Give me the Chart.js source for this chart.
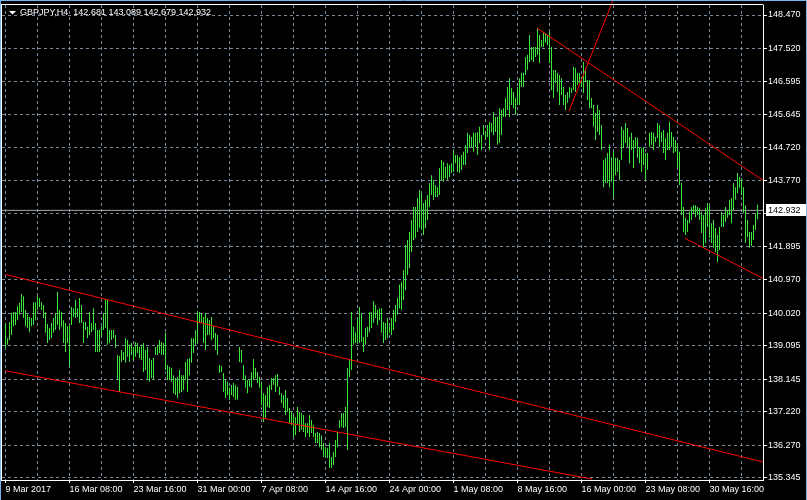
<!DOCTYPE html>
<html><head><meta charset="utf-8">
<script src="https://cdn.jsdelivr.net/npm/chart.js@4/dist/chart.umd.min.js"></script>
<style>html,body{margin:0;padding:0;background:#000;overflow:hidden}canvas{display:block}</style>
</head><body>
<canvas id="c" width="807" height="500"></canvas>
<script>
// ---- data ----
const symbolTitle = 'GBPJPY,H4';
const lastOHLC = [142.681, 143.089, 142.679, 142.932];
const xTickLabels = ['9 Mar 2017','16 Mar 08:00','23 Mar 16:00','31 Mar 00:00','7 Apr 08:00','14 Apr 16:00','24 Apr 00:00','1 May 08:00','8 May 16:00','16 May 00:00','23 May 08:00','30 May 16:00'];
const yTickValues = [148.470,147.520,146.595,145.645,144.720,143.770,142.845,141.895,140.970,140.020,139.095,138.145,137.220,136.270,135.345];
const highs = [
139.74,139.31,139.77,140.02,140.05,140.05,140.22,140.31,140.56,140.50,
140.11,139.99,139.91,139.88,140.33,140.33,140.50,140.45,140.33,140.25,
140.05,139.71,139.60,139.74,139.88,140.02,140.62,140.11,140.05,139.82,
139.74,139.65,139.68,140.19,140.16,140.39,140.16,140.45,140.25,139.77,
139.77,139.63,140.05,139.74,140.16,139.74,139.54,139.54,139.65,140.02,
140.42,140.39,139.54,139.54,139.54,139.40,138.83,138.80,138.97,138.92,
139.31,139.26,139.12,139.17,139.06,139.20,139.17,139.06,139.12,139.17,
138.97,139.06,138.75,138.69,138.75,139.06,139.12,139.26,139.20,139.17,
139.46,138.55,138.49,138.46,138.26,138.18,138.21,138.41,138.26,138.26,
138.63,138.72,138.75,139.31,139.31,139.54,140.08,140.05,140.02,139.91,
140.02,139.88,139.82,139.91,139.63,139.46,139.40,138.55,138.52,138.32,
138.12,138.07,137.90,137.98,138.04,137.98,137.93,139.06,138.97,138.55,
138.26,138.12,138.12,138.35,138.72,138.46,138.35,138.21,138.07,137.75,
137.70,137.93,137.98,138.18,138.18,138.26,138.29,137.93,137.75,137.70,
137.84,137.61,137.33,137.22,137.13,137.07,137.36,137.22,137.19,137.13,
136.90,136.90,137.13,136.99,136.85,136.62,136.65,136.62,136.56,136.34,
136.22,136.20,136.34,135.94,136.08,136.42,136.65,136.99,137.19,137.19,
137.36,138.46,138.69,140.05,139.63,139.48,139.88,140.19,140.02,139.34,
139.60,139.63,140.05,140.05,140.36,140.25,140.11,140.16,140.16,139.77,
139.74,139.88,139.65,139.88,140.11,140.25,140.45,140.82,140.90,141.24,
141.95,142.09,142.32,142.66,143.03,143.03,143.28,143.51,143.42,143.14,
143.23,143.37,143.71,143.93,143.79,143.65,143.59,144.13,144.36,144.30,
144.16,144.27,144.22,144.27,144.64,144.50,144.50,144.44,144.50,144.59,
144.79,145.13,145.07,145.01,145.13,145.13,145.15,145.30,145.07,145.35,
145.15,145.35,145.44,145.41,145.72,145.58,145.58,145.83,145.78,145.83,
146.12,146.43,146.68,146.40,146.29,146.12,146.43,146.68,146.83,146.83,
147.28,147.34,147.90,147.56,147.56,147.56,148.10,147.90,147.76,147.99,
147.96,147.90,147.99,147.56,146.91,146.91,146.83,146.77,146.68,146.43,
146.20,146.29,146.43,146.40,147.00,146.97,146.83,146.83,146.71,147.14,
146.97,146.63,146.63,146.12,145.92,145.69,145.92,145.78,145.35,144.36,
144.42,144.56,144.79,144.44,144.59,144.42,144.42,144.36,145.30,145.21,
145.41,145.27,145.01,145.13,144.93,145.01,144.98,144.73,144.70,144.73,
144.56,144.56,145.13,145.15,145.13,145.01,145.41,145.35,145.15,145.21,
144.98,145.13,145.44,145.15,145.01,144.93,144.79,144.59,143.71,143.03,
142.72,142.66,142.89,143.03,143.08,143.08,143.03,143.00,142.89,142.80,
143.00,143.14,143.08,142.57,142.66,142.43,142.23,142.46,142.89,142.80,
143.03,142.94,143.23,143.28,143.71,143.59,143.99,143.88,143.85,143.59,
143.08,142.66,142.32,142.32,142.52,142.86,143.089];
const lows = [
139.03,139.12,139.26,139.40,139.65,139.68,139.82,139.97,140.05,139.88,
139.65,139.60,139.48,139.65,139.68,139.82,140.11,140.19,140.11,139.88,
139.46,139.17,139.26,139.31,139.46,139.54,139.68,139.54,139.63,139.17,
138.92,139.17,138.52,139.68,139.91,139.88,139.91,139.74,139.74,139.17,
139.54,139.31,139.40,139.48,139.54,138.92,138.92,138.92,139.34,139.54,
139.60,139.12,139.17,139.26,139.31,139.03,138.12,137.78,138.63,138.69,
138.61,138.78,138.63,138.83,138.69,138.78,138.89,138.75,138.69,138.35,
138.41,138.12,138.07,138.18,138.12,138.83,138.83,138.89,138.83,138.83,
138.41,138.12,138.12,138.07,137.75,137.70,137.61,137.75,137.78,137.84,
138.12,137.78,138.26,138.61,138.89,139.12,139.17,139.77,139.74,139.17,
138.97,139.40,139.40,139.26,139.31,138.97,138.83,138.32,138.35,137.78,
137.61,137.70,137.56,137.70,137.64,137.56,137.56,138.63,138.61,138.12,
137.90,137.75,137.93,137.90,138.12,138.18,138.04,137.90,137.41,136.93,
137.05,137.36,137.33,137.84,137.98,137.78,137.93,137.70,137.47,137.33,
137.13,137.22,136.90,136.85,136.51,136.56,136.85,136.65,136.71,136.65,
136.51,136.62,136.51,136.62,136.51,136.34,136.34,136.22,136.14,135.94,
135.94,135.91,135.63,135.63,135.71,135.94,136.22,136.76,136.79,136.76,
136.79,136.14,138.21,138.41,139.12,139.17,139.20,139.17,139.20,138.92,
139.12,139.34,139.48,139.60,139.74,139.88,139.68,139.82,139.46,139.17,
139.26,139.31,139.46,139.40,139.54,139.77,139.97,140.16,140.11,140.39,
140.67,141.10,141.30,141.75,142.09,142.15,142.32,142.43,142.38,142.23,
142.43,142.66,143.03,143.37,143.23,143.31,143.31,143.37,143.79,143.74,
143.85,143.79,143.88,143.99,144.02,144.27,144.02,143.99,144.08,144.22,
144.22,144.56,144.70,144.73,144.59,144.73,144.50,144.84,144.64,145.07,
144.93,145.01,144.64,145.15,145.07,145.15,144.79,144.84,145.07,145.58,
145.58,145.78,145.58,145.92,145.83,145.64,145.92,145.92,146.43,146.43,
146.77,146.91,147.14,147.19,147.14,147.28,147.34,147.11,147.56,147.56,
147.68,147.62,147.11,146.34,146.12,146.54,146.29,145.92,146.20,145.92,
145.78,145.98,146.12,146.26,146.34,146.29,146.49,146.54,146.43,146.26,
146.57,146.06,145.83,145.83,145.30,144.93,145.15,145.07,144.64,143.59,
143.71,143.71,143.59,143.74,143.31,143.93,144.02,143.79,144.36,144.70,
144.84,144.73,144.27,144.64,144.13,144.70,144.42,144.27,144.02,144.22,
143.79,144.08,144.73,144.79,144.64,144.87,144.98,144.73,144.87,144.56,
144.36,144.64,144.64,144.73,144.56,144.59,144.13,143.65,142.80,142.32,
142.23,142.32,142.57,142.66,142.86,142.74,142.80,142.66,142.29,141.87,
142.01,142.46,142.15,142.01,141.87,141.75,141.47,141.81,142.46,142.46,
142.60,142.72,142.80,142.57,142.94,143.23,143.42,143.57,143.37,142.86,
142.01,142.18,141.87,141.92,142.09,142.38,142.679];
// trend lines: [barIndexStart, priceStart, barIndexEnd, priceEnd]
const trendUpperChannel = [-0.25, 141.119, 378.75, 135.798];
const trendLowerChannel = [-0.25, 138.386, 293.25, 135.316];
const trendTopFall = [265.75, 148.101, 378.75, 143.784];
const trendSteep = [281.75, 145.748, 303.85, 148.895];
const trendBottomRight = [339.75, 142.140, 378.75, 141.003];

// ---- chart ----
const X_MIN = -1.75, X_MAX = 378.75;
const Y_MAX = 148.7535, Y_MIN = 135.2883;
const FONT = {family: 'Liberation Sans, Arial, sans-serif', size: 9};
const GRID = '#778899';
const BAR = '#3de63d';

function lineDS(t, extra) {
  return Object.assign({
    type: 'line',
    data: [{x: t[0], y: t[1]}, {x: t[2], y: t[3]}],
    borderColor: '#ff0000', borderWidth: 1, pointRadius: 0, tension: 0, order: 1
  }, extra || {});
}

const frame = {
  id: 'frame',
  beforeDraw(chart) {
    const c = chart.ctx;
    c.save(); c.fillStyle = '#000'; c.fillRect(0, 0, chart.width, chart.height); c.restore();
  },
  afterDraw(chart) {
    const c = chart.ctx, a = chart.chartArea, ys = chart.scales.y;
    c.save();
    // white frame
    c.strokeStyle = '#ffffff'; c.lineWidth = 1;
    c.beginPath();
    c.moveTo(1.5, 4.5); c.lineTo(a.right + 0.5, 4.5);
    c.moveTo(1.5, 4); c.lineTo(1.5, a.bottom + 1);
    c.stroke();
    // window border
    c.strokeStyle = '#79b4e8';
    c.beginPath();
    c.moveTo(0, 0.5); c.lineTo(807, 0.5);
    c.moveTo(0.5, 0); c.lineTo(0.5, 500);
    c.moveTo(806.5, 0); c.lineTo(806.5, 500);
    c.stroke();
    // header
    c.fillStyle = '#ffffff';
    c.beginPath(); c.moveTo(9, 11); c.lineTo(16, 11); c.lineTo(12.5, 14.5); c.closePath(); c.fill();
    c.font = '9px "Liberation Sans", Arial, sans-serif';
    c.textBaseline = 'middle'; c.textAlign = 'left';
    c.fillText(symbolTitle + '  ' + lastOHLC.map(v => v.toFixed(3)).join(' '), 20, 13);
    // bid price label
    const py = Math.round(ys.getPixelForValue(lastOHLC[3]));
    c.fillStyle = '#ffffff';
    c.fillRect(766, py - 6, 40, 12);
    c.fillStyle = '#000000';
    c.fillText(lastOHLC[3].toFixed(3), 768, py + 0.5);
    c.restore();
  }
};

new Chart(document.getElementById('c'), {
  type: 'bar',
  data: {
    datasets: [
      {
        type: 'bar',
        data: highs.map((h, i) => ({x: i, y: [lows[i], h]})),
        backgroundColor: BAR, borderWidth: 0, barThickness: 1, inflateAmount: 0, order: 2
      },
      lineDS([X_MIN, lastOHLC[3], X_MAX, lastOHLC[3]], {borderColor: '#a8a8a8', order: 3}),
      lineDS(trendUpperChannel),
      lineDS(trendLowerChannel),
      lineDS(trendTopFall),
      lineDS(trendSteep, {clip: false}),
      lineDS(trendBottomRight)
    ]
  },
  options: {
    responsive: false, devicePixelRatio: 1, animation: false, events: [],
    layout: {padding: {left: 2, top: 5, right: 0, bottom: 0}},
    plugins: {legend: {display: false}, tooltip: {enabled: false}, title: {display: false}},
    scales: {
      x: {
        type: 'linear', position: 'bottom', min: X_MIN, max: X_MAX, offset: false, bounds: 'data',
        afterBuildTicks(s) { const t = []; for (let v = 0; v <= X_MAX; v += 16) t.push({value: v}); s.ticks = t; },
        afterFit(s) { s.height = 20; s.paddingLeft = 0; s.paddingRight = 0; },
        grid: {
          offset: false, color: GRID, lineWidth: 1, tickLength: 3, tickBorderDash: [],
          tickColor: (ctx) => (ctx.tick && ctx.tick.value % 32 === 0) ? '#ffffff' : 'rgba(0,0,0,0)'
        },
        border: {display: true, color: '#ffffff', width: 1, dash: [3, 3]},
        ticks: {
          color: '#ffffff', font: FONT, padding: 1, align: 'start', autoSkip: false, maxRotation: 0, minRotation: 0,
          callback: (v) => (v % 32 === 0 && xTickLabels[v / 32] !== undefined) ? xTickLabels[v / 32] : ''
        }
      },
      y: {
        type: 'linear', position: 'right', min: Y_MIN, max: Y_MAX, beginAtZero: false, bounds: 'data',
        afterBuildTicks(s) { s.ticks = yTickValues.map(v => ({value: v})); },
        afterFit(s) { s.width = 44; s.paddingTop = 0; s.paddingBottom = 0; },
        grid: {color: GRID, lineWidth: 1, tickLength: 4, tickColor: '#ffffff', tickBorderDash: []},
        border: {display: true, color: '#ffffff', width: 1, dash: [3, 3]},
        ticks: {color: '#ffffff', font: FONT, padding: 1, callback: (v) => Number(v).toFixed(3)}
      }
    }
  },
  plugins: [frame]
});
</script>
</body></html>
